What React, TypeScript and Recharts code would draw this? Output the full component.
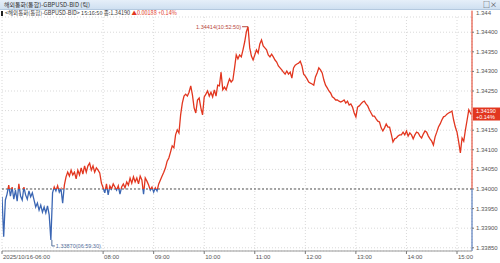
import { LineChart, Line, XAxis, YAxis, CartesianGrid, ReferenceLine, ReferenceDot } from 'recharts'

const H06 = [1.3398, 1.33878, 1.33972, 1.33987, 1.3401, 1.33982, 1.34005, 1.33974, 1.33997, 1.33969, 1.34013, 1.33982, 1.33972, 1.34005, 1.33985, 1.33974, 1.33995, 1.3398, 1.3399, 1.33972, 1.33954, 1.33964, 1.33946, 1.33959, 1.33941, 1.33954, 1.33939, 1.33957, 1.33934, 1.3387]
const H07 = [1.3399, 1.34005, 1.33995, 1.34008, 1.33992, 1.34, 1.33964, 1.3401, 1.34031, 1.34043, 1.34033, 1.34048, 1.34036, 1.34043, 1.34026, 1.34048, 1.34036, 1.34054, 1.34038, 1.34059, 1.34043, 1.34059, 1.34066, 1.34048, 1.34059, 1.34043, 1.34054, 1.34048, 1.34041, 1.34015]
const H08 = [1.34003, 1.3399, 1.34013, 1.33985, 1.34008, 1.34, 1.34013, 1.34005, 1.33997, 1.34008, 1.33987, 1.34005, 1.34013, 1.34003, 1.34018, 1.3401, 1.34028, 1.34015, 1.34031, 1.34018, 1.34028, 1.34013, 1.34033, 1.34023, 1.33987, 1.34028, 1.3402, 1.3401, 1.33997, 1.34005]
const H09 = [1.33992, 1.34003, 1.33995, 1.34013, 1.34023, 1.34033, 1.34043, 1.34054, 1.34071, 1.34079, 1.34094, 1.3411, 1.34105, 1.34138, 1.34151, 1.34143, 1.34189, 1.34219, 1.34237, 1.34242, 1.34237, 1.34247, 1.34263, 1.3424, 1.34207, 1.34194, 1.34227, 1.34232, 1.34207, 1.34189]
const H10 = [1.34235, 1.34242, 1.3425, 1.34237, 1.34247, 1.34235, 1.34253, 1.34237, 1.34265, 1.34263, 1.34298, 1.34253, 1.3426, 1.34253, 1.34268, 1.34281, 1.34273, 1.34278, 1.34309, 1.34342, 1.34332, 1.34342, 1.34337, 1.34355, 1.34375, 1.34401, 1.34414, 1.3436, 1.34339, 1.34329]
const H11 = [1.34342, 1.34355, 1.34347, 1.3437, 1.3438, 1.34365, 1.3436, 1.34355, 1.34342, 1.34337, 1.34344, 1.34337, 1.34329, 1.34324, 1.34314, 1.34309, 1.34304, 1.34298, 1.34293, 1.34301, 1.34293, 1.34298, 1.34283, 1.34309, 1.34316, 1.34319, 1.34321, 1.34326, 1.34314, 1.34293]
const H12 = [1.34288, 1.34281, 1.34273, 1.3427, 1.34268, 1.34265, 1.34286, 1.34296, 1.34309, 1.34304, 1.34296, 1.34278, 1.34265, 1.34258, 1.3425, 1.34245, 1.34235, 1.34232, 1.34227, 1.34227, 1.34224, 1.34222, 1.34224, 1.34227, 1.34219, 1.34224, 1.34214, 1.34217, 1.34209, 1.34194]
const H13 = [1.34184, 1.34209, 1.34212, 1.34217, 1.34222, 1.34224, 1.34217, 1.34212, 1.34202, 1.34194, 1.34186, 1.34186, 1.34179, 1.34173, 1.34171, 1.34156, 1.34148, 1.34156, 1.34166, 1.34158, 1.34158, 1.3414, 1.3412, 1.34128, 1.3413, 1.34135, 1.34138, 1.34138, 1.34145, 1.34138]
const H14 = [1.34148, 1.34135, 1.34143, 1.34138, 1.34128, 1.34138, 1.34145, 1.34143, 1.34135, 1.3413, 1.3414, 1.34148, 1.34145, 1.34135, 1.34128, 1.34122, 1.34112, 1.34133, 1.34145, 1.34158, 1.34166, 1.34176, 1.34184, 1.34186, 1.34191, 1.34194, 1.34196, 1.34199, 1.34176, 1.34158]
const H15 = [1.34145, 1.3412, 1.34092, 1.3413, 1.34122, 1.34151, 1.34176, 1.34202]
const HOURS = [6, 7, 8, 9, 10, 11, 12, 13, 14, 15]
const HOUR_SERIES = [H06, H07, H08, H09, H10, H11, H12, H13, H14, H15]

const LAST_TIME = 15 * 60 + 16 + 50 / 60 // 15:16:50
const LAST_PRICE = 1.3419
const BASE_PRICE = 1.34

const Y_TICKS = [1.3385, 1.339, 1.3395, 1.34, 1.3405, 1.341, 1.3415, 1.342, 1.3425, 1.343, 1.3435, 1.344]
const X_TICKS = [360, 480, 540, 600, 660, 720, 780, 840, 900]
const X_LABELS: Record<number, string> = {
  360: '2025/10/16-06:00',
  480: '08:00',
  540: '09:00',
  600: '10:00',
  660: '11:00',
  720: '12:00',
  780: '13:00',
  840: '14:00',
  900: '15:00',
}

const RED = '#e2361f'
const BLUE = '#3b66b3'
const X_MAX = 917.8
const Y_MIN = 1.338418
const Y_MAX = 1.344388

const data: { t: number; p: number }[] = []
HOUR_SERIES.forEach((arr, h) => {
  arr.forEach((p, i) => data.push({ t: HOURS[h] * 60 + i * 2, p }))
})
data.push({ t: LAST_TIME, p: LAST_PRICE })

const maxPt = data.reduce((a, b) => (b.p > a.p ? b : a))
const minPt = data.reduce((a, b) => (b.p < a.p ? b : a))
const splitOffset = (maxPt.p - BASE_PRICE) / (maxPt.p - minPt.p)

const FONT = '"Liberation Sans", Arial, sans-serif'
const KFONT = '"Noto Sans CJK KR", "Liberation Sans", sans-serif'

const YTick = (props: any) => {
  const { x, y, payload } = props
  if (Math.abs(payload.value - 1.342) < 1e-7) return <g />
  return (
    <g>
      <line x1={x} x2={x + 2} y1={y} y2={y} stroke="#777" />
      <text x={x + 4} y={y} dy={2} fontSize={6} fontFamily={FONT} fill="#555">
        {payload.value.toFixed(5)}
      </text>
    </g>
  )
}

const XTick = (props: any) => {
  const { x, y, payload } = props
  return (
    <g>
      <line x1={x} x2={x} y1={y} y2={y + 3} stroke="#777" />
      <text x={x + 1} y={y + 8} fontSize={6} fontFamily={FONT} fill="#555">
        {X_LABELS[payload.value]}
      </text>
    </g>
  )
}

const PeakLabel = (props: any) => {
  const { cx, cy } = props
  return (
    <g>
      <line x1={cx - 6} x2={cx} y1={cy} y2={cy} stroke="#b8473c" />
      <text x={cx - 7} y={cy} dy={2} textAnchor="end" fontSize={5.5} fontFamily={FONT} fill="#b8473c">
        1.34414(10:52:50)
      </text>
    </g>
  )
}

const LowLabel = (props: any) => {
  const { cx, cy } = props
  return (
    <g>
      <path d={`M${cx + 1},${cy} V${cy + 6} H${cx + 4}`} stroke="#55709c" fill="none" />
      <text x={cx + 5} y={cy + 6} dy={2} fontSize={5.5} fontFamily={FONT} fill="#55709c">
        1.33870(06:59:30)
      </text>
    </g>
  )
}

const PriceBox = (props: any) => {
  const { cx, cy } = props
  return (
    <g>
      <rect x={cx + 1} y={cy - 7} width={27} height={13} fill={RED} />
      <text x={cx + 4} y={cy - 1.5} fontSize={5.5} fontFamily={FONT} fill="#fff">
        1.34190
      </text>
      <text x={cx + 4} y={cy + 4.5} fontSize={5.5} fontFamily={FONT} fill="#fff">
        +0.14%
      </text>
    </g>
  )
}

export default function App() {
  return (
    <div style={{ position: 'absolute', top: 0, left: 0, width: 500, height: 263, background: '#fff', overflow: 'hidden' }}>
      <div
        style={{
          position: 'absolute',
          top: 0,
          left: 0,
          width: 500,
          height: 9,
          background: 'linear-gradient(#e6eff9, #cfe0f1)',
          borderBottom: '1px solid #b4c9df',
          fontFamily: KFONT,
          fontSize: 6,
          lineHeight: '9px',
          color: '#333',
        }}
      >
        <span style={{ position: 'absolute', left: 4 }}>해외통화(통합)-GBPUSD-BID (틱)</span>
        <span style={{ position: 'absolute', right: 3, fontSize: 7 }}>□×</span>
      </div>
      <div
        style={{
          position: 'absolute',
          top: 10,
          left: 1,
          height: 7,
          fontFamily: KFONT,
          fontSize: 5.5,
          lineHeight: '7px',
          color: '#333',
          whiteSpace: 'nowrap',
        }}
      >
        <span style={{ display: 'inline-block', width: 2, height: 5, background: '#222', marginRight: 2, verticalAlign: 'middle' }} />
        {'<해외통화(통합)-GBPUSD-BID> 15:16:50 종:1.34190 '}
        <span style={{ color: RED }}>▲0.00188 +0.14%</span>
      </div>
      <div style={{ position: 'absolute', top: 10, left: 476, fontFamily: FONT, fontSize: 6, color: '#555' }}>1.344</div>
      <div style={{ position: 'absolute', top: 0, left: 0 }}>
        <LineChart width={500} height={263} data={data} margin={{ top: 17, right: 0, bottom: 0, left: 2 }}>
          <defs>
            <linearGradient id="split" x1="0" y1="0" x2="0" y2="1">
              <stop offset={splitOffset} stopColor={RED} />
              <stop offset={splitOffset} stopColor={BLUE} />
            </linearGradient>
          </defs>
          <CartesianGrid stroke="#d9d9d9" strokeDasharray="1 2" />
          <XAxis
            dataKey="t"
            type="number"
            domain={[360, X_MAX]}
            ticks={X_TICKS}
            tick={<XTick />}
            tickLine={false}
            tickSize={0}
            tickMargin={0}
            axisLine={{ stroke: '#999' }}
            height={12}
            interval={0}
            allowDataOverflow
          />
          <YAxis
            orientation="right"
            type="number"
            domain={[Y_MIN, Y_MAX]}
            ticks={Y_TICKS}
            tick={<YTick />}
            tickLine={false}
            tickSize={0}
            tickMargin={0}
            axisLine={false}
            width={28}
            interval={0}
            allowDataOverflow
          />
          <ReferenceLine y={BASE_PRICE} stroke="#555" strokeDasharray="2 2" />
          <ReferenceLine
            segment={[{ x: X_MAX, y: 1.34455 }, { x: X_MAX, y: BASE_PRICE }]}
            stroke={RED}
            ifOverflow="visible"
          />
          <ReferenceLine
            segment={[{ x: X_MAX, y: BASE_PRICE }, { x: X_MAX, y: Y_MIN }]}
            stroke={BLUE}
            ifOverflow="visible"
          />
          <Line
            dataKey="p"
            stroke="url(#split)"
            strokeWidth={1.3}
            dot={false}
            isAnimationActive={false}
            type="linear"
          />
          <ReferenceDot x={maxPt.t} y={maxPt.p} r={0} shape={<PeakLabel />} ifOverflow="visible" />
          <ReferenceDot x={minPt.t} y={minPt.p} r={0} shape={<LowLabel />} ifOverflow="visible" />
          <ReferenceDot x={X_MAX} y={LAST_PRICE} r={0} shape={<PriceBox />} ifOverflow="visible" />
        </LineChart>
      </div>
    </div>
  )
}
